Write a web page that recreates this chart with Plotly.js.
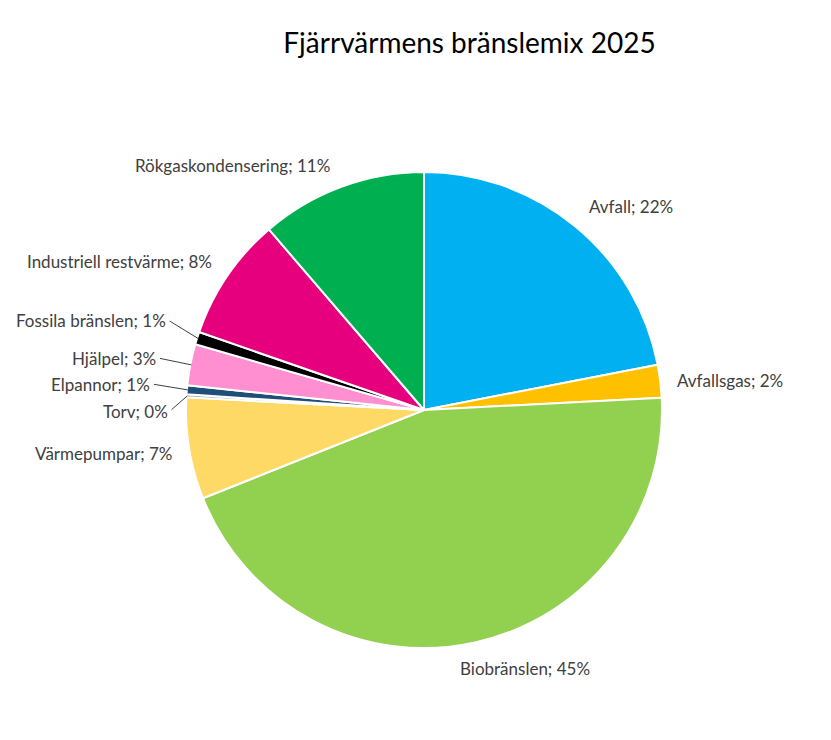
<!DOCTYPE html>
<html>
<head>
<meta charset="utf-8">
<script src="https://cdn.plot.ly/plotly-3.0.1.min.js"></script>
<style>html,body{margin:0;padding:0;background:#fff;}#chart{width:831px;height:740px;}</style>
</head>
<body>
<div id="chart"></div>
<script>
// ---- data ----
const categories = ["Avfall", "Avfallsgas", "Biobränslen", "Värmepumpar", "Torv", "Elpannor", "Hjälpel", "Fossila bränslen", "Industriell restvärme", "Rökgaskondensering"];
const shares = [21.96, 2.23, 44.8, 6.9, 0.2, 0.6, 2.8, 0.86, 8.4, 11.3];
const colors = ["#00B0F0", "#FFC000", "#92D050", "#FFD966", "#A5A5A5", "#1F4E79", "#FF8FD0", "#000000", "#E6007E", "#00B050"];
const titleText = "Fjärrvärmens bränslemix 2025";

// ---- layout constants (pixels) ----
const W = 831, H = 740;
const CX = 424, CY = 410, R = 238;
const FONT = "Lato, 'Open Sans', sans-serif";
// label placement: [anchor x px, center y px, xanchor, leader line?]
const labelPlace = [
  [587, 207, "left", false],
  [675, 380, "left", false],
  [525, 668, "center", false],
  [174, 453, "right", false],
  [170, 411, "right", true],
  [152, 384, "right", true],
  [158, 358, "right", true],
  [168, 320, "right", true],
  [214, 262, "right", false],
  [232, 165, "center", false]
];

const total = shares.reduce((a, b) => a + b, 0);
const px2x = p => p / W;
const py2y = p => 1 - p / H;

const annotations = [];
let cum = 0;
shares.forEach((v, i) => {
  const mid = (cum + v / 2) / total * 2 * Math.PI;
  cum += v;
  const pct = Math.round(v / total * 100);
  const text = categories[i] + "; " + pct + "%";
  const [lx, ly, xa, line] = labelPlace[i];
  if (line) {
    const tx = CX + (R - 1) * Math.sin(mid);
    const ty = CY - (R - 1) * Math.cos(mid);
    annotations.push({
      xref: "paper", yref: "paper", x: px2x(tx), y: py2y(ty),
      ax: lx - tx, ay: ly - ty, xanchor: xa, yanchor: "middle",
      text: text, showarrow: true, arrowhead: 0, arrowwidth: 1, arrowcolor: "#404040",
      standoff: 0, startstandoff: 2,
      font: {family: FONT, size: 17, color: "#404040"}
    });
  } else {
    annotations.push({
      xref: "paper", yref: "paper", x: px2x(lx), y: py2y(ly),
      xanchor: xa, yanchor: "middle", text: text, showarrow: false,
      font: {family: FONT, size: 17, color: "#404040"}
    });
  }
});

const trace = {
  type: "pie",
  labels: categories,
  values: shares,
  sort: false,
  direction: "clockwise",
  rotation: 0,
  marker: {colors: colors, line: {color: "#ffffff", width: 2}},
  textinfo: "none",
  hoverinfo: "none",
  showlegend: false,
  domain: {x: [(CX - R) / W, (CX + R) / W], y: [1 - (CY + R) / H, 1 - (CY - R) / H]}
};

const layout = {
  width: W, height: H,
  margin: {l: 0, r: 0, t: 0, b: 0},
  paper_bgcolor: "#ffffff",
  title: {text: titleText, font: {family: FONT, size: 28, color: "#000000"}, x: 0.565, xanchor: "center", y: 0.942, yanchor: "middle"},
  showlegend: false,
  annotations: annotations
};

Plotly.newPlot("chart", [trace], layout, {displayModeBar: false, staticPlot: true});
</script>
</body>
</html>
